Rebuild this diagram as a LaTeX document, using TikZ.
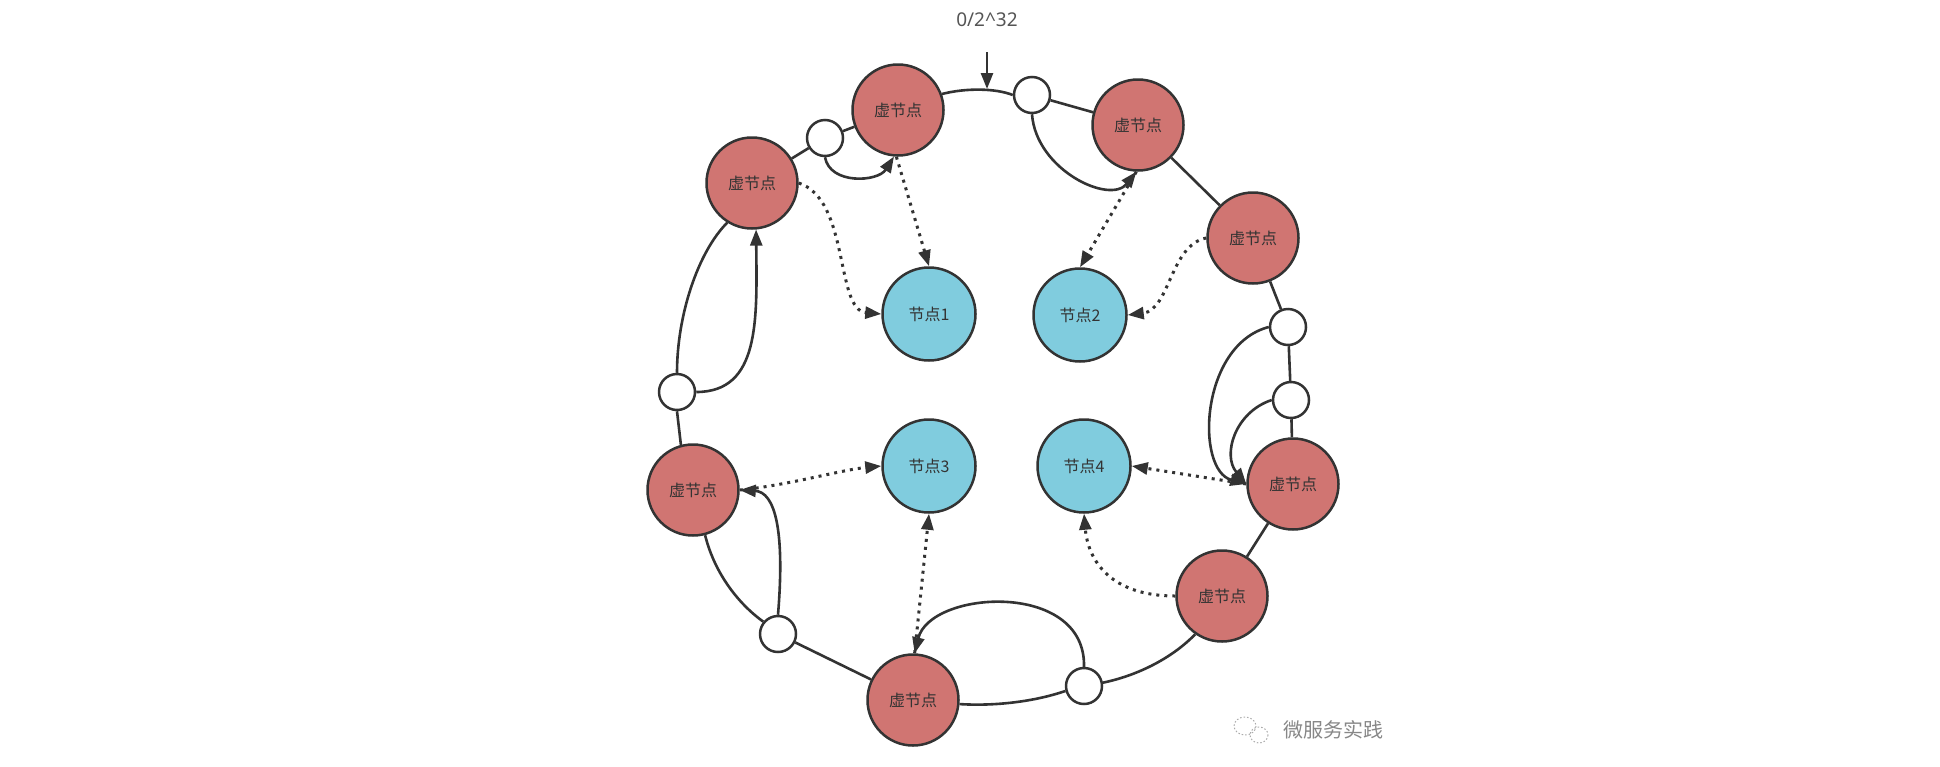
\documentclass[tikz,border=0pt]{standalone}
\usepackage{fontspec}
\setmainfont{Noto Sans}
\newfontfamily\cjk{Noto Sans CJK SC}
\usetikzlibrary{arrows.meta}
\definecolor{vred}{RGB}{208,117,114}
\definecolor{nblue}{RGB}{128,204,222}
\definecolor{ink}{RGB}{51,51,51}
\definecolor{lblgray}{RGB}{85,85,85}
\definecolor{wmgray}{RGB}{135,135,135}
\begin{document}
\begin{tikzpicture}[x=1pt,y=-1pt,
  vnode/.style={circle,draw=ink,line width=2.5pt,fill=vred,minimum size=91pt,inner sep=0pt,
    font=\cjk\fontsize{16}{16}\selectfont,text=ink},
  pnode/.style={circle,draw=ink,line width=2.5pt,fill=nblue,minimum size=93pt,inner sep=0pt,
    font=\cjk\fontsize{16}{16}\selectfont,text=ink},
  snode/.style={circle,draw=ink,line width=2.5pt,fill=white,minimum size=36pt,inner sep=0pt},
  ring/.style={draw=ink,line width=2.6pt},
  arr/.style={draw=ink,line width=2.6pt,-{Triangle[length=16pt,width=12pt]}},
  dotarr/.style={draw=ink,line width=3pt,dash pattern=on 3pt off 5pt,-{Triangle[length=16pt,width=12pt]}},
]
\fill[white] (0,0) rectangle (1940,766);
\useasboundingbox (0,0) rectangle (1940,766);

% label
\node[font=\fontsize{19}{19}\selectfont,text=lblgray] (lbl) at (987,20) {0/2\textasciicircum 32};
\coordinate (zerotop) at (987,52);
\coordinate (zero) at (987,89);

% virtual nodes
\node[vnode] (V1) at (898,110) {虚节点};
\node[vnode] (V2) at (752,183) {虚节点};
\node[vnode] (V3) at (1138,125) {虚节点};
\node[vnode] (V4) at (1253,238) {虚节点};
\node[vnode] (V5) at (1293,484) {虚节点};
\node[vnode] (V6) at (1222,596) {虚节点};
\node[vnode] (V7) at (913,700) {虚节点};
\node[vnode] (V8) at (693,490) {虚节点};

% physical nodes
\node[pnode] (N1) at (929,314) {节点1};
\node[pnode] (N2) at (1080,315) {节点2};
\node[pnode] (N3) at (929,466) {节点3};
\node[pnode] (N4) at (1084,466) {节点4};

% small nodes
\node[snode] (S1) at (825,138) {};
\node[snode] (S2) at (1032,95) {};
\node[snode] (S3) at (1288,327) {};
\node[snode] (S4) at (1291,400) {};
\node[snode] (S5) at (1084,686) {};
\node[snode] (S6) at (778,634) {};
\node[snode] (S7) at (677,392) {};

% ring segments
\draw[ring] (V2) -- (S1);
\draw[ring] (S1) -- (V1);
\draw[ring] (V1.20) .. controls (965,88) and (995,88) .. (S2.west);
\draw[ring] (S2) -- (V3);
\draw[ring] (V3) -- (V4);
\draw[ring] (V4) -- (S3);
\draw[ring] (S3) -- (S4);
\draw[ring] (S4) -- (V5);
\draw[ring] (V5) -- (V6);
\draw[ring] (V6.235) .. controls (1170,660) and (1135,676) .. (S5.10);
\draw[ring] (S5.195) .. controls (1030,703) and (990,706) .. (V7.355);
\draw[ring] (V7) -- (S6);
\draw[ring] (S6.140) .. controls (740,605) and (715,575) .. (V8.285);
\draw[ring] (V8.105) -- (S7.south);
\draw[ring] (S7.north) .. controls (677,315) and (698,252) .. (V2.238);

% 0 marker
\draw[arr] (zerotop) -- (zero);

% internal solid arrows
\draw[arr] (S1.south) .. controls (830,185) and (878,182) .. (V1.265);
\draw[arr] (S2.south) .. controls (1036,170) and (1110,205) .. (V3.268);
\draw[arr] (S7.east) .. controls (760,392) and (757,320) .. (V2.275);
\draw[arr] (S6.north) .. controls (785,530) and (775,492) .. (V8.east);
\draw[arr] (S5.north) .. controls (1086,580) and (930,590) .. (V7.88);
\draw[arr] (S3.west) .. controls (1200,345) and (1195,470) .. (V5.180);
\draw[arr] (S4.west) .. controls (1235,412) and (1222,455) .. (V5.180);

% dotted mappings
\draw[dotarr] (V2.east) .. controls (850,200) and (835,310) .. (N1.west);
\draw[dotarr] (V1.268) -- (N1.north);
\draw[dotarr] (V3.268) -- (N2.north);
\draw[dotarr] (V4.west) .. controls (1170,245) and (1170,310) .. (N2.east);
\draw[dotarr] (V8.east) .. controls (790,485) and (840,470) .. (N3.west);
\draw[dotarr] (V7.88) -- (N3.south);
\draw[dotarr] (V5.180) -- (N4.east);
\draw[dotarr] (V6.west) .. controls (1110,596) and (1088,560) .. (N4.south);

% watermark
\draw[wmgray!70,line width=1pt,dash pattern=on 1.5pt off 2pt] (1245,726) ellipse [x radius=11,y radius=9];
\draw[wmgray!70,line width=1pt,dash pattern=on 1.5pt off 2pt] (1259,735) ellipse [x radius=9,y radius=8];
\node[font=\cjk\fontsize{20}{20}\selectfont,text=wmgray] (wm) at (1333,730) {微服务实践};
\end{tikzpicture}
\end{document}
